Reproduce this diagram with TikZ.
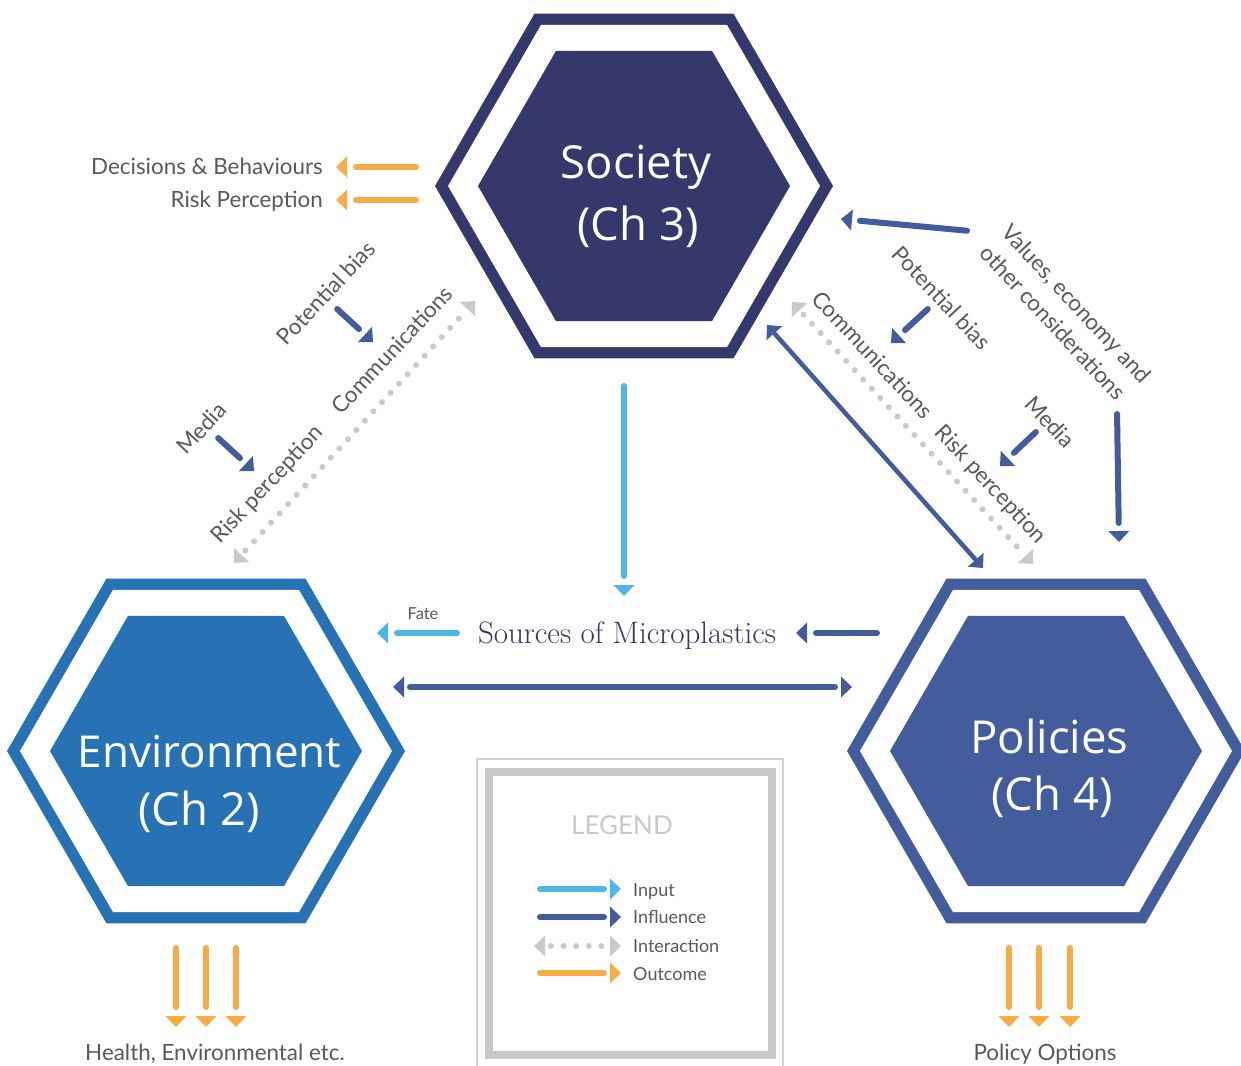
\documentclass[tikz,border=0pt]{standalone}
\usepackage{fontspec}
\newfontfamily\labfont{Lato}
\newfontfamily\hexfont{Open Sans}
\usetikzlibrary{calc}
\definecolor{navy}{HTML}{35386A}
\definecolor{envblue}{HTML}{2672B5}
\definecolor{polblue}{HTML}{435C9B}
\definecolor{infl}{HTML}{435C9B}
\definecolor{inp}{HTML}{4FB7E8}
\definecolor{outc}{HTML}{F9AB45}
\definecolor{intg}{HTML}{CACACA}
\definecolor{txt}{HTML}{595959}
\definecolor{leg}{HTML}{C8C8C8}
\newcommand\hexa[3]{%
  \fill[#3] ($(#1)+(#2,0)$) -- ($(#1)+({#2*0.5},{#2*0.866})$) -- ($(#1)+({-#2*0.5},{#2*0.866})$)
   -- ($(#1)+(-#2,0)$) -- ($(#1)+({-#2*0.5},{-#2*0.866})$) -- ($(#1)+({#2*0.5},{-#2*0.866})$) -- cycle;}
\newcommand\tri[4][10.5pt]{%
  \fill[#2] (#3) -- ($(#3)!11pt!(#4)!#1!90:(#3)$) -- ($(#3)!11pt!(#4)!#1!-90:(#3)$) -- cycle;}
\newcommand\arw[5][6pt]{%
  \draw[#2, line width=#1, line cap=round, shorten <=3pt, shorten >=#5] (#3) -- (#4);
  \tri{#2}{#4}{#3}}
\newcommand\darw[5][6pt]{%
  \draw[#2, line width=#1, line cap=round, shorten <=#5, shorten >=#5] (#3) -- (#4);
  \tri{#2}{#3}{#4}\tri{#2}{#4}{#3}}
\newcommand\dotarw[2]{%
  \draw[intg, line width=6pt, line cap=round, dash pattern=on 0pt off 12.6pt, shorten <=17pt, shorten >=17pt] (#1) -- (#2);
  \tri{intg}{#1}{#2}\tri{intg}{#2}{#1}}
\tikzset{
  lab/.style={text=txt, font=\labfont\fontsize{22.4}{26}\selectfont, inner sep=0pt},
  hext/.style={text=white, font=\hexfont\fontsize{45.5}{50}\selectfont, inner sep=0pt, anchor=base},
  legt/.style={text=txt, font=\labfont\fontsize{18}{20}\selectfont, inner sep=0pt, anchor=base west},
}
\begin{document}
\begin{tikzpicture}[x=1pt,y=-1pt]
\useasboundingbox (0,0) rectangle (1241,1065);
% hexagons
\coordinate (soc) at (634,186);
\coordinate (env) at (206,751);
\coordinate (pol) at (1046,751);
\hexa{soc}{199}{navy}\hexa{soc}{186}{white}\hexa{soc}{156}{navy}
\hexa{env}{199}{envblue}\hexa{env}{186}{white}\hexa{env}{156}{envblue}
\hexa{pol}{199}{polblue}\hexa{pol}{186}{white}\hexa{pol}{156}{polblue}
\node[hext] (s1) at (636,178) {Society};
\node[hext] (s2) at (638,240) {(Ch 3)};
\node[hext, font=\hexfont\fontsize{44}{50}\selectfont] (e1) at (209.5,767) {Environment};
\node[hext] (e2) at (199,825) {(Ch 2)};
\node[hext] (p1) at (1049.5,753) {Policies};
\node[hext] (p2) at (1052,810) {(Ch 4)};
% top-left outcomes
\coordinate (o1a) at (419,167); \coordinate (o1b) at (336,167);
\coordinate (o2a) at (419,200); \coordinate (o2b) at (336,200);
\arw{outc}{o1a}{o1b}{20pt}
\arw{outc}{o2a}{o2b}{20pt}
\node[lab, anchor=base east] (t1) at (323,174) {Decisions \& Behaviours};
\node[lab, anchor=base east] (t2) at (323,207) {Risk Perception};
% left diagonal
\coordinate (lpa) at (335,307); \coordinate (lpb) at (373,342);
\coordinate (lma) at (216,436); \coordinate (lmb) at (254,471);
\arw{infl}{lpa}{lpb}{19pt}
\arw{infl}{lma}{lmb}{19pt}
\coordinate (ldA) at (234,563); \coordinate (ldB) at (475,301);
\dotarw{ldA}{ldB}
\node[lab, rotate=47] (t3) at (326,293) {Potential bias};
\node[lab, rotate=47] (t4) at (392,350) {Communications};
\node[lab, rotate=47] (t5) at (201,428) {Media};
\node[lab, rotate=47] (t6) at (268,485) {Risk perception};
% right diagonal
\coordinate (rva) at (970,231); \coordinate (rvb) at (841,219);
\arw{infl}{rva}{rvb}{19pt}
\coordinate (rda) at (1117,411); \coordinate (rdb) at (1119,542);
\arw{infl}{rda}{rdb}{19pt}
\coordinate (rpa) at (930,307); \coordinate (rpb) at (891,343);
\arw{infl}{rpa}{rpb}{19pt}
\coordinate (rma) at (1038,430); \coordinate (rmb) at (1000,466);
\arw{infl}{rma}{rmb}{19pt}
\coordinate (rdA) at (792,302); \coordinate (rdB) at (1033,564);
\dotarw{rdA}{rdB}
\coordinate (rsA) at (767,325); \coordinate (rsB) at (983,568);
\darw[4.5pt]{infl}{rsA}{rsB}{12pt}
\node[lab, rotate=-47, align=left, font=\labfont\fontsize{22.4}{30}\selectfont] (t7) at (1066,314) {Values, economy and\\other considerations};
\node[lab, rotate=-47] (t9) at (942,298) {Potential bias};
\node[lab, rotate=-47] (t10) at (873,355) {Communications};
\node[lab, rotate=-47] (t11) at (1050,422) {Media};
\node[lab, rotate=-47] (t12) at (990,485) {Risk perception};
% centre
\coordinate (ca) at (624,383); \coordinate (cb) at (624,596);
\arw{inp}{ca}{cb}{20pt}
\node[text=navy, font=\rmfamily\fontsize{31}{34}\selectfont, inner sep=0pt, anchor=base] (src) at (627,643) {Sources of Microplastics};
\coordinate (fa) at (460,633); \coordinate (fb) at (377,633);
\arw{inp}{fa}{fb}{20pt}
\node[lab, font=\labfont\fontsize{16.5}{18}\selectfont] (t13) at (423,614) {Fate};
\coordinate (pa) at (880,633); \coordinate (pb) at (796,633);
\arw{infl}{pa}{pb}{20pt}
\coordinate (hA) at (393,687); \coordinate (hB) at (852,687);
\darw{infl}{hA}{hB}{17pt}
% bottom outcomes
\foreach \xx [count=\i] in {176,206,236,1009,1039,1070}{
  \coordinate (ba\i) at (\xx,945); \coordinate (bb\i) at (\xx,1027);
  \arw{outc}{ba\i}{bb\i}{20pt}
}
\node[lab, anchor=base] (t14) at (215,1060) {Health, Environmental etc.};
\node[lab, anchor=base] (t15) at (1045,1060) {Policy Options};
% legend
\draw[leg!80, line width=1.5pt] (477,759) rectangle (783,1075);
\draw[leg, line width=8pt] (489,772) rectangle (772,1055);
\node[text=leg, font=\labfont\fontsize{26}{28}\selectfont, inner sep=0pt, anchor=base] (lg) at (622,834) {LEGEND};
\coordinate (la1) at (537,889); \coordinate (lb1) at (621,889);
\coordinate (la2) at (537,917); \coordinate (lb2) at (621,917);
\coordinate (la3) at (534,946); \coordinate (lb3) at (621,946);
\coordinate (la4) at (537,973); \coordinate (lb4) at (621,973);
\arw{inp}{la1}{lb1}{17pt}
\arw{infl}{la2}{lb2}{17pt}
\dotarw{la3}{lb3}
\arw{outc}{la4}{lb4}{17pt}
\node[legt] (l1) at (633,896) {Input};
\node[legt] (l2) at (633,923) {Influence};
\node[legt] (l3) at (633,952) {Interaction};
\node[legt] (l4) at (633,980) {Outcome};
\end{tikzpicture}
\end{document}
